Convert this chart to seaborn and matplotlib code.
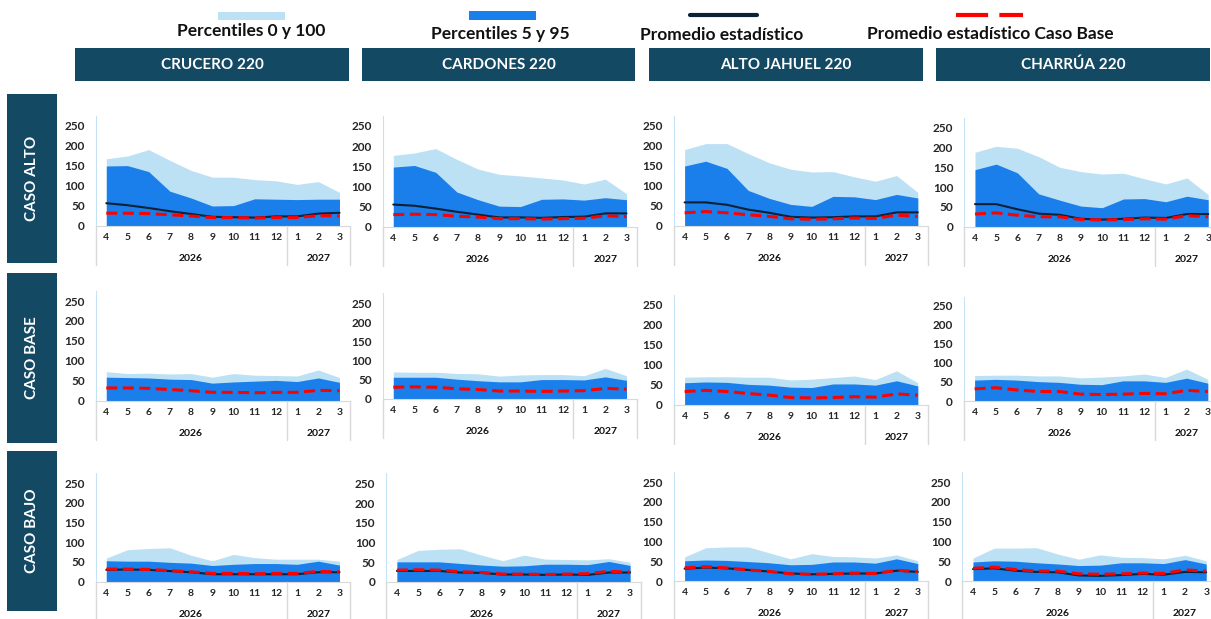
import numpy as np
import pandas as pd
import matplotlib
matplotlib.use("Agg")
import matplotlib.pyplot as plt
import seaborn as sns
from matplotlib.patches import Rectangle
from matplotlib.lines import Line2D

# --- datos ---
meses = [4, 5, 6, 7, 8, 9, 10, 11, 12, 1, 2, 3]
anios = ["2026", "2027"]
barras = ["CRUCERO 220", "CARDONES 220", "ALTO JAHUEL 220", "CHARRÚA 220"]
casos = ["CASO ALTO", "CASO BASE", "CASO BAJO"]
leyenda = ["Percentiles 0 y 100", "Percentiles 5 y 95",
           "Promedio estadístico", "Promedio estadístico Caso Base"]

crucero_alto_p100 = [168, 175, 191, 164, 139, 122, 122, 116, 113, 104, 111, 84]
crucero_alto_p95 = [150, 151, 136, 87, 70, 50, 51, 68, 67, 66, 67, 67]
crucero_alto_prom = [57, 52, 45, 37, 30, 23, 22, 21, 24, 24, 31, 33]
crucero_base_p100 = [73, 68, 69, 67, 68, 59, 68, 64, 63, 62, 77, 58]
crucero_base_p95 = [59, 58, 57, 54, 53, 44, 47, 49, 51, 48, 57, 46]
crucero_base_prom = [32, 32, 31, 28, 25, 21, 21, 20, 21, 21, 26, 25]
crucero_bajo_p100 = [60, 81, 84, 86, 67, 53, 69, 61, 57, 57, 57, 52]
crucero_bajo_p95 = [53, 52, 52, 49, 47, 41, 44, 46, 46, 44, 52, 42]
crucero_bajo_prom = [30, 31, 30, 27, 24, 19, 19, 19, 19, 19, 24, 24]

cardones_alto_p100 = [177, 183, 194, 167, 143, 130, 126, 121, 116, 106, 118, 82]
cardones_alto_p95 = [148, 152, 135, 86, 67, 51, 50, 68, 69, 66, 72, 67]
cardones_alto_prom = [55, 52, 45, 37, 30, 23, 23, 22, 24, 25, 33, 33]
cardones_base_p100 = [70, 69, 69, 66, 65, 59, 62, 63, 63, 60, 79, 60]
cardones_base_p95 = [56, 56, 56, 51, 47, 44, 44, 50, 50, 49, 57, 48]
cardones_base_prom = [30, 31, 30, 26, 24, 20, 20, 19, 20, 21, 27, 25]
cardones_bajo_p100 = [57, 80, 83, 84, 68, 54, 68, 58, 57, 56, 59, 50]
cardones_bajo_p95 = [51, 51, 51, 47, 43, 40, 41, 45, 45, 44, 52, 42]
cardones_bajo_prom = [28, 28, 28, 24, 23, 19, 19, 18, 19, 18, 24, 24]

ajahuel_alto_p100 = [191, 206, 206, 181, 158, 142, 135, 136, 123, 112, 126, 84]
ajahuel_alto_p95 = [150, 162, 144, 89, 69, 54, 49, 74, 73, 66, 79, 70]
ajahuel_alto_prom = [59, 59, 53, 41, 33, 23, 21, 22, 24, 24, 34, 34]
ajahuel_base_p100 = [69, 70, 70, 69, 69, 62, 64, 68, 72, 63, 85, 55]
ajahuel_base_p95 = [55, 57, 56, 51, 49, 44, 43, 52, 52, 49, 60, 47]
ajahuel_base_prom = [33, 36, 33, 28, 24, 18, 17, 18, 20, 19, 27, 24]
ajahuel_bajo_p100 = [61, 84, 86, 86, 71, 56, 69, 62, 61, 58, 66, 51]
ajahuel_bajo_p95 = [51, 53, 52, 49, 46, 41, 42, 48, 48, 45, 56, 44]
ajahuel_bajo_prom = [31, 34, 32, 28, 24, 19, 17, 18, 19, 19, 26, 23]

charrua_alto_p100 = [188, 203, 198, 177, 150, 139, 133, 135, 121, 108, 123, 81]
charrua_alto_p95 = [144, 158, 136, 83, 67, 52, 48, 70, 71, 63, 77, 68]
charrua_alto_prom = [57, 57, 44, 33, 30, 20, 18, 20, 23, 22, 32, 32]
charrua_base_p100 = [67, 68, 68, 66, 66, 61, 63, 66, 71, 62, 84, 57]
charrua_base_p95 = [55, 57, 55, 51, 49, 44, 43, 53, 53, 49, 60, 47]
charrua_base_prom = [32, 35, 29, 25, 25, 18, 17, 18, 20, 19, 28, 25]
charrua_bajo_p100 = [58, 83, 83, 84, 68, 55, 66, 60, 59, 56, 65, 51]
charrua_bajo_p95 = [48, 51, 50, 46, 43, 39, 40, 46, 46, 44, 54, 43]
charrua_bajo_prom = [30, 32, 26, 23, 22, 14, 13, 15, 18, 16, 23, 22]

datos = {
    "CRUCERO 220": [(crucero_alto_p100, crucero_alto_p95, crucero_alto_prom),
                    (crucero_base_p100, crucero_base_p95, crucero_base_prom),
                    (crucero_bajo_p100, crucero_bajo_p95, crucero_bajo_prom)],
    "CARDONES 220": [(cardones_alto_p100, cardones_alto_p95, cardones_alto_prom),
                     (cardones_base_p100, cardones_base_p95, cardones_base_prom),
                     (cardones_bajo_p100, cardones_bajo_p95, cardones_bajo_prom)],
    "ALTO JAHUEL 220": [(ajahuel_alto_p100, ajahuel_alto_p95, ajahuel_alto_prom),
                        (ajahuel_base_p100, ajahuel_base_p95, ajahuel_base_prom),
                        (ajahuel_bajo_p100, ajahuel_bajo_p95, ajahuel_bajo_prom)],
    "CHARRÚA 220": [(charrua_alto_p100, charrua_alto_p95, charrua_alto_prom),
                    (charrua_base_p100, charrua_base_p95, charrua_base_prom),
                    (charrua_bajo_p100, charrua_bajo_p95, charrua_bajo_prom)],
}

# --- estilo ---
AZUL_CLARO = "#bce0f4"
AZUL = "#1a7fea"
NEGRO = "#0c2036"
ROJO = "#ff0000"
TEAL = "#134963"
GRIS = "#d9d9d9"
EJE = "#c6e2f5"

sns.set_style("white")
plt.rcParams["font.family"] = ["Lato", "DejaVu Sans"]
plt.rcParams["font.weight"] = "bold"
plt.rcParams["text.color"] = "#111111"

W, H = 1211, 619
fig = plt.figure(figsize=(W / 100, H / 100), dpi=100)


def rect(x0, y0, x1, y1):
    return [x0 / W, 1 - y1 / H, (x1 - x0) / W, (y1 - y0) / H]


# layout en pixeles (izquierda, cero, alto de 250)
lefts = [[95.7, 382.7, 674, 964.4],
         [95.7, 382.7, 674, 964],
         [95.7, 386.3, 674, 962.4]]
zeros = [[226, 226.7, 226, 226.7],
         [400.7, 398.7, 404.7, 401],
         [581.7, 582, 581, 581]]
alto250 = [[100, 100.7, 100, 99],
           [99.7, 95.7, 99.7, 95],
           [98.7, 98.7, 99, 99]]
ancho = 254.4
ymax = 275

x = np.arange(len(meses))
for j, barra in enumerate(barras):
    base_prom = datos[barra][1][2]
    for i, caso in enumerate(casos):
        p100, p95, prom = datos[barra][i]
        h = alto250[i][j] * ymax / 250
        z = zeros[i][j]
        l = lefts[i][j]
        ax = fig.add_axes(rect(l, z - h, l + ancho, z))
        ax.fill_between(x, 0, p100, color=AZUL_CLARO, lw=0)
        ax.fill_between(x, 0, p95, color=AZUL, lw=0)
        df = pd.DataFrame({"x": x, "prom": prom, "base": base_prom})
        # en el caso base el promedio coincide con la linea roja
        if caso != "CASO BASE":
            sns.lineplot(data=df, x="x", y="prom", ax=ax, color=NEGRO, lw=1.5)
        sns.lineplot(data=df, x="x", y="base", ax=ax, color=ROJO, lw=2.2,
                     linestyle=(0, (3.6, 1.8)))
        ax.set_xlim(-0.5, 11.5)
        ax.set_ylim(0, ymax)
        ax.set_yticks(range(0, 251, 50))
        ax.set_xticks(x)
        ax.set_xticklabels(meses)
        ax.set_xlabel("")
        ax.set_ylabel("")
        ax.tick_params(axis="y", length=0, pad=8, labelsize=8.5)
        ax.tick_params(axis="x", length=0, pad=5, labelsize=7.5)
        for s in ["top", "right"]:
            ax.spines[s].set_visible(False)
        ax.spines["left"].set_color(EJE)
        ax.spines["bottom"].set_color(GRIS)
        fr = 39 / h
        for xv in [-0.5, 8.5, 11.5]:
            ax.axvline(xv, ymin=-fr, ymax=0, color=GRIS, lw=1, clip_on=False)
        for anio, xc in zip(anios, [4, 10]):
            ax.annotate(anio, xy=(xc, 0), xycoords=("data", "axes fraction"),
                        xytext=(0, -32.5 * 0.72), textcoords="offset points",
                        ha="center", va="center", fontsize=7.5)

# encabezados de columna
cols = [(75, 349), (362, 635), (649, 923), (936, 1210)]
for (x0, x1), barra in zip(cols, barras):
    fig.add_artist(Rectangle((x0 / W, 1 - 81 / H), (x1 - x0) / W, 33 / H,
                             transform=fig.transFigure, color=TEAL, lw=0))
    fig.text((x0 + x1) / 2 / W, 1 - 65 / H, barra, color="white",
             ha="center", va="center", fontsize=11)

# etiquetas de fila
filas = [(94, 263), (273, 443), (451, 611)]
for (y0, y1), caso in zip(filas, casos):
    fig.add_artist(Rectangle((7 / W, 1 - y1 / H), 50 / W, (y1 - y0) / H,
                             transform=fig.transFigure, color=TEAL, lw=0))
    fig.text(32 / W, 1 - (y0 + y1) / 2 / H, caso, color="white", rotation=90,
             ha="center", va="center", fontsize=11)

# leyenda superior
fig.add_artist(Rectangle((218 / W, 1 - 20 / H), 67 / W, 8 / H,
                         transform=fig.transFigure, color=AZUL_CLARO, lw=0))
fig.add_artist(Rectangle((469 / W, 1 - 20 / H), 67 / W, 9 / H,
                         transform=fig.transFigure, color=AZUL, lw=0))
fig.add_artist(Line2D([690 / W, 757 / W], [1 - 15 / H, 1 - 15 / H],
                      transform=fig.transFigure, color=NEGRO, lw=3))
fig.add_artist(Line2D([956 / W, 1023 / W], [1 - 15 / H, 1 - 15 / H],
                      transform=fig.transFigure, color=ROJO, lw=3,
                      linestyle=(0, (7.7, 2.7))))
for txt, xc, yc in zip(leyenda, [251, 500, 722, 990], [31, 34, 35, 34]):
    fig.text(xc / W, 1 - yc / H, txt, ha="center", va="center", fontsize=12.5)

fig.savefig("out.png", dpi=100)
